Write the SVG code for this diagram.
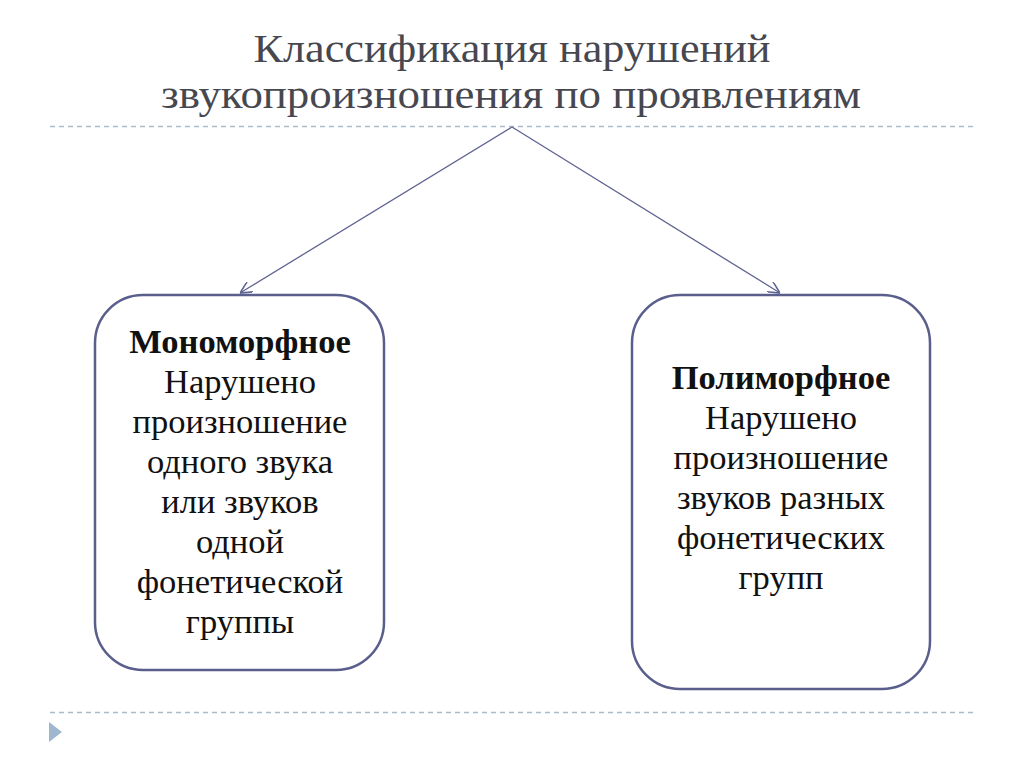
<svg xmlns="http://www.w3.org/2000/svg" width="1024" height="767" viewBox="0 0 1024 767">
<defs>
<style>
.title{font-family:"Liberation Serif","DejaVu Serif",serif;font-size:39px;fill:#474750;text-anchor:middle}
.box{fill:#fff;stroke:#5a5e8c;stroke-width:2.5}
.t{font-family:"Liberation Serif","Times New Roman",serif;font-size:34.5px;fill:#111;text-anchor:middle}
.b{font-weight:bold}
.dash{stroke:#a9bccd;stroke-width:1.3;stroke-dasharray:5 4}
.conn{stroke:#5f6390;stroke-width:1.3;fill:none}
</style>
<marker id="arr" viewBox="0 0 10 10" refX="10" refY="5" markerWidth="12" markerHeight="12" markerUnits="userSpaceOnUse" orient="auto">
<path d="M0,0 L10,5 L0,10" fill="none" stroke="#5f6390" stroke-width="1.3"/>
</marker>
</defs>
<rect width="1024" height="767" fill="#fff"/>
<g id="title">
<text class="title" x="512" y="62" textLength="517" lengthAdjust="spacingAndGlyphs">Классификация нарушений</text>
<text class="title" x="511" y="108" textLength="700" lengthAdjust="spacingAndGlyphs">звукопроизношения по проявлениям</text>
</g>
<g id="decor">
<line class="dash" x1="50" y1="126.5" x2="975" y2="126.5"/>
<line class="dash" x1="50" y1="712.5" x2="975" y2="712.5"/>
<polygon points="49,722 62,732 49,742" fill="#9fb6cf"/>
</g>
<g id="connectors">
<line class="conn" x1="512" y1="127" x2="240" y2="293" marker-end="url(#arr)"/>
<line class="conn" x1="512" y1="127" x2="780" y2="293" marker-end="url(#arr)"/>
</g>
<g id="mono">
<rect class="box" x="95" y="295" width="289" height="375" rx="48"/>
<text class="t" x="240" y="353"><tspan class="b">Мономорфное</tspan><tspan x="240" dy="40">Нарушено</tspan><tspan x="240" dy="40">произношение</tspan><tspan x="240" dy="40">одного звука</tspan><tspan x="240" dy="40">или звуков</tspan><tspan x="240" dy="40">одной</tspan><tspan x="240" dy="40">фонетической</tspan><tspan x="240" dy="40">группы</tspan></text>
</g>
<g id="poly">
<rect class="box" x="632" y="295" width="298" height="394" rx="48"/>
<text class="t" x="781" y="389"><tspan class="b">Полиморфное</tspan><tspan x="781" dy="40">Нарушено</tspan><tspan x="781" dy="40">произношение</tspan><tspan x="781" dy="40">звуков разных</tspan><tspan x="781" dy="40">фонетических</tspan><tspan x="781" dy="40">групп</tspan></text>
</g>
</svg>
